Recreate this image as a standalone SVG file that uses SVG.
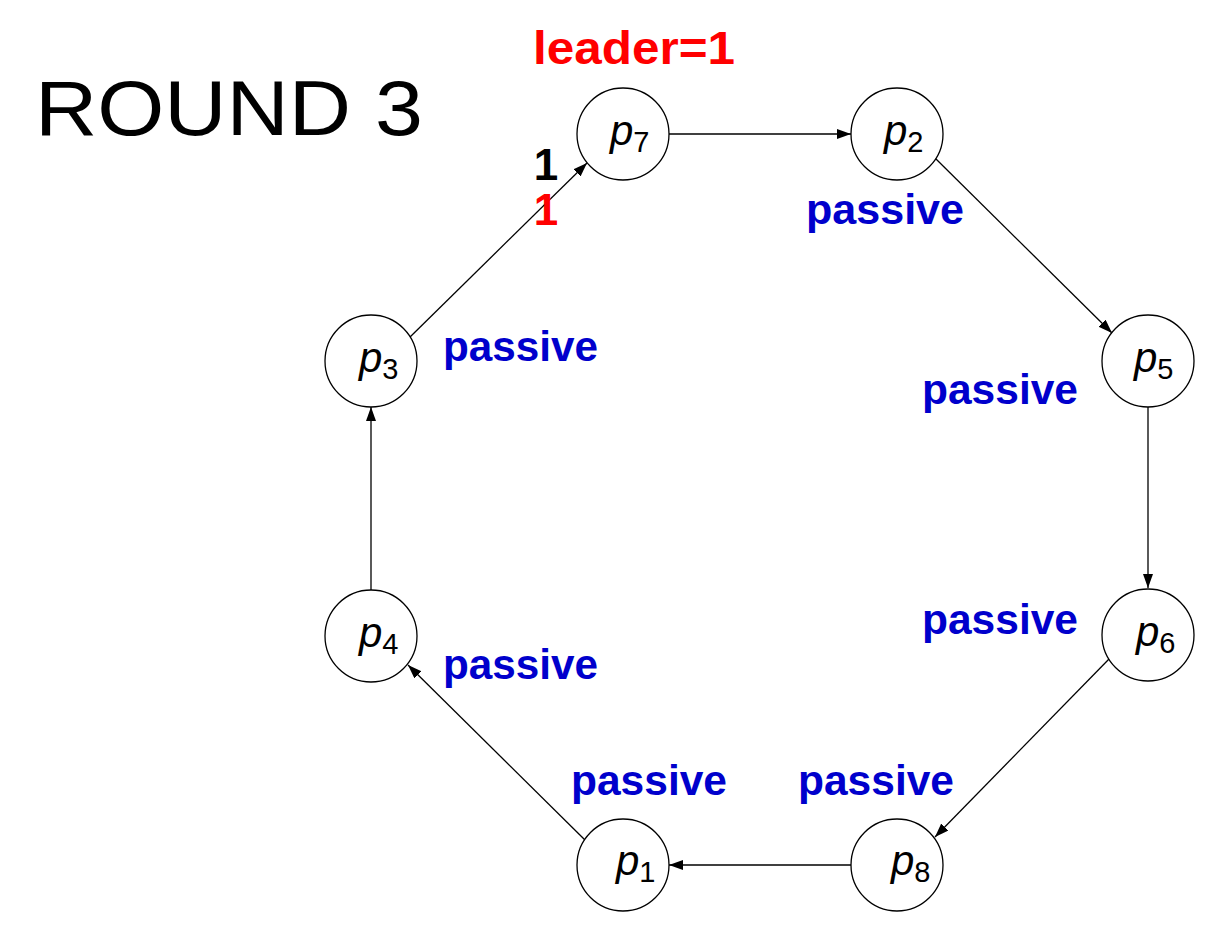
<svg xmlns="http://www.w3.org/2000/svg" width="1224" height="946" viewBox="0 0 1224 946">
<style>
.node circle{fill:#fff;stroke:#000;stroke-width:1.3}
.lab{font-family:"Liberation Sans",Arial,sans-serif;fill:#000}
.p{font-style:italic;font-size:42px}
.sub{font-style:normal;font-size:29px}
.passive{font-family:"Liberation Sans",Arial,sans-serif;font-weight:bold;font-size:42px;fill:#0000CC}
.edge{stroke:#000;stroke-width:1.3;fill:none;marker-end:url(#arr)}
.bold{font-family:"Liberation Sans",Arial,sans-serif;font-weight:bold;font-size:44px}
</style>
<defs>
<marker id="arr" markerUnits="userSpaceOnUse" markerWidth="15" markerHeight="11" refX="14" refY="5" orient="auto">
<path d="M0,0 L14,5 L0,10 z" fill="#000"/>
</marker>
</defs>
<rect width="1224" height="946" fill="#fff"/>
<text x="35" y="135" font-family="Liberation Sans,Arial,sans-serif" font-size="78" textLength="388" lengthAdjust="spacingAndGlyphs" fill="#000">ROUND 3</text>
<text x="533" y="64" font-family="Liberation Sans,Arial,sans-serif" font-weight="bold" font-size="46" textLength="202" lengthAdjust="spacingAndGlyphs" fill="#FF0000">leader=1</text>
<g id="connectors">
<line class="edge" x1="669" y1="134" x2="851" y2="134"/>
<line class="edge" x1="935" y1="158" x2="1112" y2="333"/>
<line class="edge" x1="1148" y1="407" x2="1148" y2="588"/>
<line class="edge" x1="1110" y1="658" x2="935" y2="837"/>
<line class="edge" x1="851" y1="865" x2="669" y2="865"/>
<line class="edge" x1="586" y1="841" x2="408" y2="665"/>
<line class="edge" x1="371" y1="590" x2="371" y2="407"/>
<line class="edge" x1="408" y1="339" x2="587" y2="163"/>
</g>
<g id="p7" class="node"><circle cx="623" cy="134" r="46"/><text class="lab p" x="610" y="145">p<tspan class="sub" dy="7">7</tspan></text></g>
<g id="p2" class="node"><circle cx="897" cy="134" r="46"/><text class="lab p" x="884" y="145">p<tspan class="sub" dy="7">2</tspan></text></g>
<g id="p5" class="node"><circle cx="1148" cy="361" r="46"/><text class="lab p" x="1134" y="372">p<tspan class="sub" dy="7">5</tspan></text></g>
<g id="p6" class="node"><circle cx="1148" cy="635" r="46"/><text class="lab p" x="1136" y="646">p<tspan class="sub" dy="7">6</tspan></text></g>
<g id="p8" class="node"><circle cx="897" cy="865" r="46"/><text class="lab p" x="891" y="875">p<tspan class="sub" dy="7">8</tspan></text></g>
<g id="p1" class="node"><circle cx="623" cy="865" r="46"/><text class="lab p" x="616" y="875">p<tspan class="sub" dy="7">1</tspan></text></g>
<g id="p4" class="node"><circle cx="371" cy="636" r="46"/><text class="lab p" x="359" y="647">p<tspan class="sub" dy="7">4</tspan></text></g>
<g id="p3" class="node"><circle cx="371" cy="361" r="46"/><text class="lab p" x="359" y="372">p<tspan class="sub" dy="7">3</tspan></text></g>
<g id="labels">
<text class="passive" x="806" y="224" textLength="158" lengthAdjust="spacingAndGlyphs">passive</text>
<text class="passive" x="443" y="361" textLength="155" lengthAdjust="spacingAndGlyphs">passive</text>
<text class="passive" x="922" y="404" textLength="156" lengthAdjust="spacingAndGlyphs">passive</text>
<text class="passive" x="922" y="634" textLength="156" lengthAdjust="spacingAndGlyphs">passive</text>
<text class="passive" x="443" y="679" textLength="155" lengthAdjust="spacingAndGlyphs">passive</text>
<text class="passive" x="571" y="795" textLength="156" lengthAdjust="spacingAndGlyphs">passive</text>
<text class="passive" x="798" y="795" textLength="156" lengthAdjust="spacingAndGlyphs">passive</text>
<text class="bold" x="546" y="180" text-anchor="middle" fill="#000">1</text>
<text class="bold" x="546" y="225" text-anchor="middle" fill="#FF0000">1</text>
</g>
</svg>
